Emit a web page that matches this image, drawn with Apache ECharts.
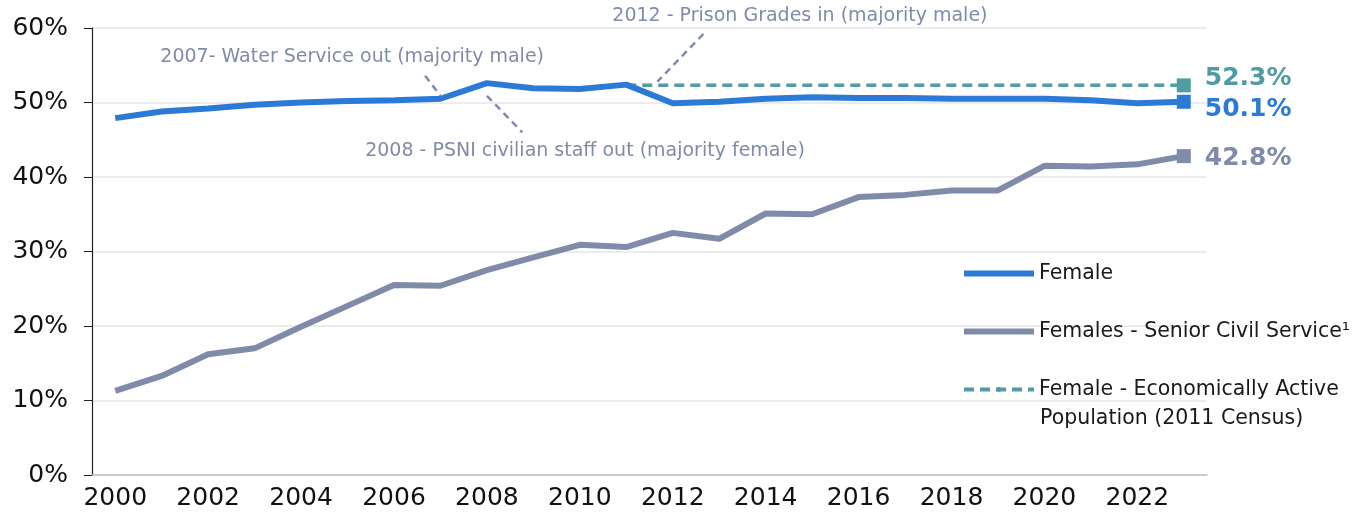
<!DOCTYPE html>
<html>
<head>
<meta charset="utf-8">
<script src="https://cdn.jsdelivr.net/npm/echarts@6/dist/echarts.min.js"></script>
<style>
  html, body { margin: 0; padding: 0; background: #fff; }
  #chart { width: 1356px; height: 520px; }
</style>
</head>
<body>
<div id="chart"></div>
<script>
"use strict";
var FONT = "DejaVu Sans";
var years = ["2000", "2001", "2002", "2003", "2004", "2005", "2006", "2007", "2008", "2009", "2010", "2011",
             "2012", "2013", "2014", "2015", "2016", "2017", "2018", "2019", "2020", "2021", "2022", "2023"];
var female = [47.9, 48.8, 49.2, 49.7, 50.0, 50.2, 50.3, 50.5, 52.6, 51.9, 51.8, 52.4,
              49.9, 50.1, 50.5, 50.7, 50.6, 50.6, 50.5, 50.5, 50.5, 50.3, 49.9, 50.1];
var seniorCS = [11.3, 13.3, 16.2, 17.0, 19.9, 22.7, 25.5, 25.4, 27.5, 29.2, 30.9, 30.6,
                32.5, 31.7, 35.1, 35.0, 37.3, 37.6, 38.2, 38.2, 41.5, 41.4, 41.7, 42.8];
var econActive = [null, null, null, null, null, null, null, null, null, null, null, 52.3,
                  52.3, 52.3, 52.3, 52.3, 52.3, 52.3, 52.3, 52.3, 52.3, 52.3, 52.3, 52.3];
var yTicks = [0, 10, 20, 30, 40, 50, 60];
var seriesNames = ["Female", "Females - Senior Civil Service\u00b9", "Female - Economically Active"];
var legendSecondLine = "Population (2011 Census)";

// annotation text + dashed leader (year, percent)
var notes = [
  { text: "2007- Water Service out (majority male)", at: [2000.97, 56.1], from: [2006.67, 53.6], to: [2007.0, 50.9] },
  { text: "2008 - PSNI civilian staff out (majority female)", at: [2005.38, 43.5], from: [2008.0, 50.9], to: [2008.76, 46.0] },
  { text: "2012 - Prison Grades in (majority male)", at: [2010.7, 61.6], from: [2012.66, 59.2], to: [2011.67, 52.8] }
];

var BLUE = "#2b7bd6", GREY = "#7f8ba8", TEAL = "#4f9ca3";
var last = years.length - 1;

function endPoint(name, arr, color, offset) {
  return {
    name: name, type: "scatter", symbol: "rect", symbolSize: 14, z: 5,
    itemStyle: { color: color, opacity: 1 },
    label: {
      show: true, position: "right", distance: 14, offset: offset,
      formatter: function (p) { return p.value[1].toFixed(1) + "%"; },
      color: color, fontFamily: FONT, fontWeight: "bold", fontSize: 25
    },
    data: [[last, arr[last]]]
  };
}

var myChart = echarts.init(document.getElementById("chart"));
var option = {
  animation: false,
  grid: { left: 92, right: 149, top: 28, bottom: 45 },
  legend: {
    orient: "vertical", left: 961, top: 259, padding: 0,
    itemWidth: 70, itemHeight: 6, itemGap: 29,
    textStyle: { fontFamily: FONT, fontSize: 20.5, color: "#1a1a1a", lineHeight: 29 },
    data: [
      { name: seriesNames[0], lineStyle: { width: 6 } },
      { name: seriesNames[1], lineStyle: { width: 6 } },
      { name: seriesNames[2], lineStyle: { width: 4 } }
    ]
  },
  xAxis: {
    type: "category", data: years, boundaryGap: true,
    axisLine: { lineStyle: { color: "#bfbfbf", width: 1.5 } },
    axisTick: { alignWithLabel: true, length: 7, lineStyle: { color: "#999" } },
    axisLabel: { interval: 1, margin: 11, fontFamily: FONT, fontSize: 25, color: "#111" }
  },
  yAxis: {
    type: "value", min: yTicks[0], max: yTicks[yTicks.length - 1], interval: 10,
    axisLine: { show: true, lineStyle: { color: "#222", width: 1.2 } },
    axisTick: { show: true, length: 8, lineStyle: { color: "#222" } },
    axisLabel: { margin: 24, fontFamily: FONT, fontSize: 25, color: "#111", formatter: "{value}%" },
    splitLine: { lineStyle: { color: "#e6e6e6", width: 1.5 } }
  },
  series: [
    { name: seriesNames[0], type: "line", data: female, symbol: "none", z: 4,
      lineStyle: { color: BLUE, width: 6 }, itemStyle: { color: BLUE } },
    { name: seriesNames[1], type: "line", data: seniorCS, symbol: "none", z: 3,
      lineStyle: { color: GREY, width: 6 }, itemStyle: { color: GREY } },
    { name: seriesNames[2], type: "line", data: econActive, symbol: "none", z: 3,
      lineStyle: { color: TEAL, width: 3.5, type: [10, 6] }, itemStyle: { color: TEAL } },
    endPoint("econEnd", econActive, TEAL, [0, -7]),
    endPoint("femaleEnd", female, BLUE, [0, 8]),
    endPoint("seniorEnd", seniorCS, GREY, [0, 2])
  ]
};
myChart.setOption(option);

// fractional year -> pixel via the chart's own axes
function toPx(pt) {
  var f = pt[0] - 2000, i = Math.floor(f), r = f - i;
  var a = myChart.convertToPixel({ gridIndex: 0 }, [i, pt[1]]);
  var b = myChart.convertToPixel({ gridIndex: 0 }, [i + 1, pt[1]]);
  return [a[0] + (b[0] - a[0]) * r, a[1]];
}

var graphics = [];
notes.forEach(function (n) {
  var p = toPx(n.at), s = toPx(n.from), e = toPx(n.to);
  graphics.push({
    type: "text", x: p[0], y: p[1], z: 10,
    style: { text: n.text, fill: GREY, font: "19px '" + FONT + "'", verticalAlign: "middle" }
  });
  graphics.push({
    type: "line", z: 10,
    shape: { x1: s[0], y1: s[1], x2: e[0], y2: e[1] },
    style: { stroke: GREY, lineWidth: 2.5, lineDash: [7, 5] }
  });
});
// wrapped second line of the third legend entry
graphics.push({
  type: "text", left: 1040, top: 408, z: 10,
  style: { text: legendSecondLine, fill: "#1a1a1a", font: "20.5px '" + FONT + "'" }
});
myChart.setOption({ graphic: graphics });
</script>
</body>
</html>
